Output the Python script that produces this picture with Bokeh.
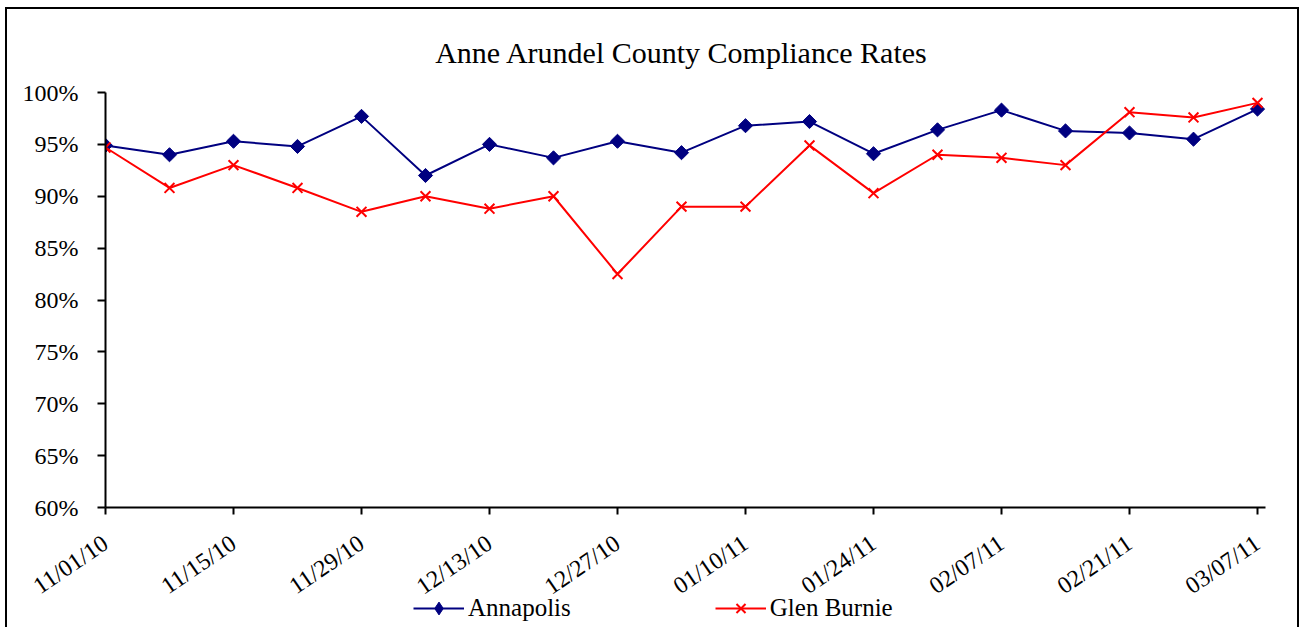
import numpy as np
import pandas as pd
from bokeh.plotting import figure
from bokeh.layouts import column
from bokeh.models import (Range1d, FixedTicker, NumeralTickFormatter, DatetimeTickFormatter,
                          Legend, LegendItem, ColumnDataSource)
from bokeh.embed import file_html
from bokeh.resources import INLINE

# ---- data ----
dates = ["2010-11-01", "2010-11-08", "2010-11-15", "2010-11-22", "2010-11-29", "2010-12-06",
         "2010-12-13", "2010-12-20", "2010-12-27", "2011-01-03", "2011-01-10", "2011-01-17",
         "2011-01-24", "2011-01-31", "2011-02-07", "2011-02-14", "2011-02-21", "2011-02-28",
         "2011-03-07"]
annapolis = [0.949, 0.940, 0.953, 0.948, 0.977, 0.920, 0.950, 0.937, 0.953, 0.942,
             0.968, 0.972, 0.941, 0.964, 0.983, 0.963, 0.961, 0.955, 0.984]
glen_burnie = [0.947, 0.908, 0.930, 0.908, 0.885, 0.900, 0.888, 0.900, 0.825, 0.890,
               0.890, 0.949, 0.903, 0.940, 0.937, 0.930, 0.981, 0.976, 0.990]
series_names = ["Annapolis", "Glen Burnie"]
tick_dates = ["2010-11-01", "2010-11-15", "2010-11-29", "2010-12-13", "2010-12-27",
              "2011-01-10", "2011-01-24", "2011-02-07", "2011-02-21", "2011-03-07"]
y_ticks = [0.60, 0.65, 0.70, 0.75, 0.80, 0.85, 0.90, 0.95, 1.00]
title_text = "Anne Arundel County Compliance  Rates"

NAVY = "#000080"
RED = "#FF0000"
FONT = "Liberation Serif"

x = pd.to_datetime(dates)
src = ColumnDataSource(dict(x=x, a=annapolis, g=glen_burnie))

p = figure(width=1290, height=604, output_backend="svg", toolbar_location=None,
           x_axis_type="datetime",
           x_range=Range1d(x[0], x[-1] + pd.Timedelta(hours=21)),
           y_range=Range1d(0.60, 1.00),
           min_border_left=98, min_border_right=32, min_border_top=82, min_border_bottom=88)

p.title.text = title_text
p.title.align = "center"
p.title.text_font = FONT
p.title.text_font_size = "30px"
p.title.text_font_style = "normal"
p.title.text_color = "black"
p.title.standoff = 48

p.border_fill_color = "white"
p.outline_line_color = None
p.xgrid.grid_line_color = None
p.ygrid.grid_line_color = None
p.background_fill_color = "white"

p.line("x", "a", source=src, line_color=NAVY, line_width=2)
p.scatter("x", "a", source=src, marker="square", angle=np.pi / 4, size=10,
          fill_color=NAVY, line_color=NAVY)
p.line("x", "g", source=src, line_color=RED, line_width=2)
p.scatter("x", "g", source=src, marker="x", size=14, line_color=RED, line_width=2)

# axes
yax = p.yaxis[0]
yax.ticker = FixedTicker(ticks=y_ticks)
yax.formatter = NumeralTickFormatter(format="0%")
yax.major_label_text_font = FONT
yax.major_label_text_font_size = "24px"
yax.major_label_text_color = "black"
yax.major_tick_in = 0
yax.major_tick_out = 8
yax.minor_tick_line_color = None
yax.axis_line_width = 2
yax.major_tick_line_width = 2
yax.major_label_standoff = 19

xax = p.xaxis[0]
xax.ticker = FixedTicker(ticks=[pd.Timestamp(d).value / 1e6 for d in tick_dates])
xax.formatter = DatetimeTickFormatter(days="%m/%d/%y", months="%m/%d/%y", years="%m/%d/%y",
                                      hours="%m/%d/%y")
xax.major_label_orientation = 0.6
xax.major_label_text_font = FONT
xax.major_label_text_font_size = "24px"
xax.major_label_text_color = "black"
xax.major_tick_in = 0
xax.major_tick_out = 7
xax.minor_tick_line_color = None
xax.axis_line_width = 2
xax.major_tick_line_width = 2
xax.major_label_standoff = 26

# ---- legend strip below the chart (series drawn off-range, only legend shows) ----
q = figure(width=1290, height=36, output_backend="svg", toolbar_location=None,
           x_range=Range1d(0, 1), y_range=Range1d(0, 1),
           x_axis_location=None, y_axis_location=None,
           min_border_left=0, min_border_right=0, min_border_top=0, min_border_bottom=0)
q.outline_line_color = None
q.xgrid.grid_line_color = None
q.ygrid.grid_line_color = None
q.border_fill_alpha = 0
q.background_fill_alpha = 0
q.styles = {"margin-top": "-22px"}
r1l = q.line("x", "a", source=src, line_color=NAVY, line_width=2)
r1m = q.scatter("x", "a", source=src, marker="diamond", size=12,
                fill_color=NAVY, line_color=NAVY)
r2l = q.line("x", "g", source=src, line_color=RED, line_width=2)
r2m = q.scatter("x", "g", source=src, marker="x", size=14, line_color=RED, line_width=2)

legend = Legend(items=[LegendItem(label=series_names[0], renderers=[r1l, r1m]),
                       LegendItem(label=series_names[1], renderers=[r2l, r2m])],
                orientation="horizontal", location=(308, 3))
legend.label_text_font = FONT
legend.label_text_font_size = "25px"
legend.label_text_color = "black"
legend.glyph_width = 51
legend.glyph_height = 32
legend.label_standoff = 4
legend.spacing = 144
legend.border_line_color = None
legend.background_fill_alpha = 0
legend.padding = 0
legend.margin = 0
q.add_layout(legend, "center")

layout = column(p, q, spacing=0)
layout.styles = {"margin-left": "5px", "margin-top": "7px",
                 "border-top": "2px solid black", "border-left": "2px solid black",
                 "border-right": "2px solid black"}

open("out.html", "w").write(file_html(layout, INLINE))
